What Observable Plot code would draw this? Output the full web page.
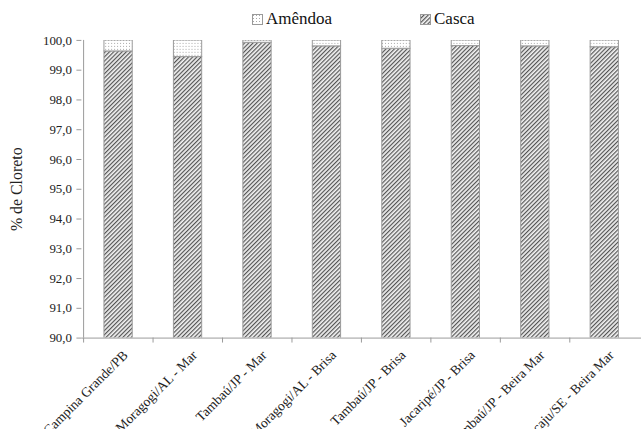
<!DOCTYPE html>
<html><head><meta charset="utf-8">
<script src="https://cdn.jsdelivr.net/npm/d3@7"></script>
<script src="https://cdn.jsdelivr.net/npm/@observablehq/plot@0.6"></script>
<style>
body{margin:0;background:#fff;overflow:hidden;font-family:"Liberation Serif","Times New Roman",serif;}
#legend{position:relative;height:30px;width:641px;}
.item{position:absolute;top:8px;height:22px;display:flex;align-items:center;font-size:17px;color:#111;}
.item svg{margin-right:3px;}
#chart svg{overflow:hidden;}
</style></head><body>
<svg width="0" height="0" style="position:absolute">
  <defs>
    <pattern id="hatch" patternUnits="userSpaceOnUse" width="3" height="3" patternTransform="rotate(45)">
      <rect width="3" height="3" fill="#f2f2f2"/>
      <line x1="0.6" y1="0" x2="0.6" y2="3" stroke="#555" stroke-width="1.2"/>
    </pattern>
    <pattern id="dots" patternUnits="userSpaceOnUse" width="3" height="3">
      <rect width="3" height="3" fill="#fff"/>
      <rect x="1" y="1" width="1" height="1" fill="#a8a8a8"/>
    </pattern>
  </defs>
</svg>
<div id="legend"></div>
<div id="chart"></div>
<script>
const categories = ["Campina Grande/PB", "Moragogi/AL - Mar", "Tambaú/JP - Mar", "Moragogi/AL - Brisa", "Tambaú/JP - Brisa", "Jacaripé/JP - Brisa", "Tambaú/JP - Beira Mar", "Aracaju/SE - Beira Mar"];
const casca = [99.63, 99.44, 99.92, 99.80, 99.72, 99.81, 99.80, 99.77];
const amendoa = [0.37, 0.56, 0.08, 0.20, 0.28, 0.19, 0.20, 0.23];
const series = ["Amêndoa", "Casca"];
const seriesFill = ["url(#dots)", "url(#hatch)"];
const yTicks = [90, 91, 92, 93, 94, 95, 96, 97, 98, 99, 100];

const rows = [];
categories.forEach((c, i) => {
  rows.push({cat: c, serie: "Casca", value: casca[i]});
  rows.push({cat: c, serie: "Amêndoa", value: amendoa[i]});
});

const W = 646, ML = 82, MR = 0, H = 402, MT = 10, MB = 92;
const bw = (W - ML - MR) / categories.length;
const inset = (bw - 29) / 2;

const chart = Plot.plot({
  width: W, height: H,
  marginLeft: ML, marginRight: MR, marginTop: MT, marginBottom: MB,
  style: {fontFamily: "'Liberation Serif', 'Times New Roman', serif", background: "#fff", color: "#222"},
  x: {domain: categories, padding: 0, label: null, axis: null},
  y: {domain: [90, 100], label: null},
  color: {domain: series, range: seriesFill},
  marks: [
    Plot.barY(rows, Plot.stackY({x: "cat", y: "value", fill: "serie", insetLeft: inset, insetRight: inset, stroke: "#9a9a9a", strokeWidth: 1, clip: true})),
    Plot.ruleY([90], {stroke: "#9a9a9a", strokeWidth: 1}),
    Plot.ruleX([categories[0]], {y1: 90, y2: 100, dx: -bw / 2, stroke: "#9a9a9a", strokeWidth: 1}),
    Plot.ruleX(categories, {x: d => d, y1: 90, y2: 90, insetBottom: -5, dx: -bw / 2, stroke: "#9a9a9a"}),
    Plot.axisY({ticks: yTicks, tickFormat: d => d.toFixed(1).replace(".", ","), tickSize: 5, tickPadding: 5, stroke: "#9a9a9a", fill: "#222", fontSize: 13, label: null}),
    Plot.text(categories, {x: d => d, y: d => 90, text: d => d, rotate: -45, textAnchor: "end", lineAnchor: "middle", dx: 7, dy: 15, fontSize: 13.7, fill: "#222"}),
    Plot.text(["% de Cloreto"], {frameAnchor: "left", rotate: -90, dx: -65, textAnchor: "middle", fontSize: 16, fill: "#222"})
  ]
});
document.getElementById("chart").appendChild(chart);

const legend = document.getElementById("legend");
const legendX = [252, 420];
series.forEach((s, i) => {
  const d = document.createElement("div");
  d.className = "item";
  d.style.left = legendX[i] + "px";
  d.innerHTML = `<svg width="11" height="11"><rect x="0.5" y="0.5" width="10" height="10" fill="${seriesFill[i]}" stroke="#9a9a9a"/></svg><span>${s}</span>`;
  legend.appendChild(d);
});
</script>
</body></html>
